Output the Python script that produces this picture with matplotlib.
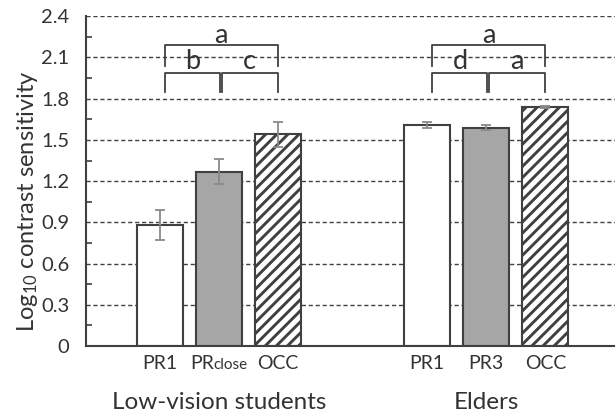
import numpy as np
import matplotlib
matplotlib.use('Agg')
import matplotlib.pyplot as plt
from matplotlib.ticker import MultipleLocator
from matplotlib.transforms import blended_transform_factory, offset_copy

plt.rcParams['font.family'] = ['Lato', 'DejaVu Sans']
plt.rcParams['mathtext.default'] = 'regular'
plt.rcParams['hatch.linewidth'] = 2.1
plt.rcParams['hatch.color'] = '#262626'

# ---- data ----
conditions = ['PR1', 'PR', 'OCC', 'PR1', 'PR3', 'OCC']
suffixes = ['', 'close', '', '', '', '']   # drawn smaller after the name
groups = ['Low-vision students', 'Elders']
means = [0.88, 1.27, 1.54, 1.61, 1.59, 1.74]
errors = [0.11, 0.09, 0.09, 0.02, 0.02, 0.01]
# bracket letters per group: (outer, left pair, right pair)
letters = [('a', 'b', 'c'), ('a', 'd', 'a')]

x = np.array([0, 1, 2, 4.53, 5.53, 6.53])
faces = ['white', '#a6a6a6', 'white'] * 2
hatches = ['', '', '///'] * 2
edge = '#404040'
txt = '#333333'

fig = plt.figure(figsize=(6.15, 4.15), dpi=100)
ax = fig.add_axes([0.14, 0.166, 0.86, 0.795])

ax.set_axisbelow(True)
ax.yaxis.grid(True, which='major', linestyle=(0, (3, 2)), color='#404040', linewidth=1.0)

for xi, m, e, fc, h in zip(x, means, errors, faces, hatches):
    ax.bar(xi, m, width=0.78, color=fc, edgecolor=edge, linewidth=1.5, hatch=h, zorder=2)
    ax.errorbar(xi, m, yerr=e, color='#8a8a8a', capsize=3.5, elinewidth=1.3, capthick=1.3, zorder=3)

def bracket(x0, x1, y_top, y_bot):
    ax.plot([x0, x0, x1, x1], [y_bot, y_top, y_top, y_bot], color='#404040',
            linewidth=1.3, solid_joinstyle='round', zorder=4, clip_on=False)

for g, (outer, left, right) in enumerate(letters):
    a0, a1, a2 = x[3 * g] + 0.08, x[3 * g + 1] + 0.03, x[3 * g + 2]
    bracket(a0, a2, 2.19, 2.04)
    bracket(a0, a1 - 0.02, 1.99, 1.85)
    bracket(a1 + 0.02, a2, 1.99, 1.85)
    ax.text((a0 + a2) / 2, 2.26, outer, ha='center', va='center', fontsize=19.5, color=txt)
    ax.text((a0 + a1) / 2, 2.07, left, ha='center', va='center', fontsize=19.5, color=txt)
    ax.text((a1 + a2) / 2, 2.07, right, ha='center', va='center', fontsize=19.5, color=txt)

ax.set_ylim(0, 2.4)
ax.set_xlim(-1.25, 7.71)
ax.yaxis.set_minor_locator(MultipleLocator(0.15))
ax.set_yticks(np.arange(0, 2.41, 0.3))
ax.set_yticklabels(['0'] + ['%.1f' % v for v in np.arange(0.3, 2.41, 0.3)])
ax.tick_params(axis='y', which='major', length=0, labelsize=14.5, labelcolor=txt, pad=12)
ax.tick_params(axis='y', which='minor', direction='in', length=4, color='#404040', width=1.2)

ax.set_xticks(x)
ax.tick_params(axis='x', length=0, labelbottom=False)

# condition labels, with the smaller suffix on the same baseline
trans = blended_transform_factory(ax.transData, ax.transAxes)
fig.canvas.draw()
renderer = fig.canvas.get_renderer()
for xi, name, suf in zip(x, conditions, suffixes):
    t = ax.text(xi, -0.068, name, ha='center', va='baseline', fontsize=14, color=txt, transform=trans)
    if suf:
        s = ax.text(xi, -0.068, suf, ha='left', va='baseline', fontsize=11, color=txt, transform=trans)
        w1 = t.get_window_extent(renderer).width * 72 / fig.dpi
        w2 = s.get_window_extent(renderer).width * 72 / fig.dpi
        shift = (w1 + w2) / 2
        t.set_ha('left')
        t.set_transform(offset_copy(trans, fig=fig, x=-shift, units='points'))
        s.set_transform(offset_copy(trans, fig=fig, x=-shift + w1, units='points'))

for s in ['top', 'right']:
    ax.spines[s].set_visible(False)
for s in ['left', 'bottom']:
    ax.spines[s].set_color('#404040')
    ax.spines[s].set_linewidth(1.5)

ax.set_ylabel('Log$_{10}$ contrast sensitivity', fontsize=17, color=txt)
ax.yaxis.set_label_coords(-0.088, 0.44)

for g, name in enumerate(groups):
    ax.text(x[3 * g + 1], -0.19, name, ha='center', va='baseline', fontsize=17.5,
            color=txt, transform=trans)

fig.savefig('out.png', dpi=100)
